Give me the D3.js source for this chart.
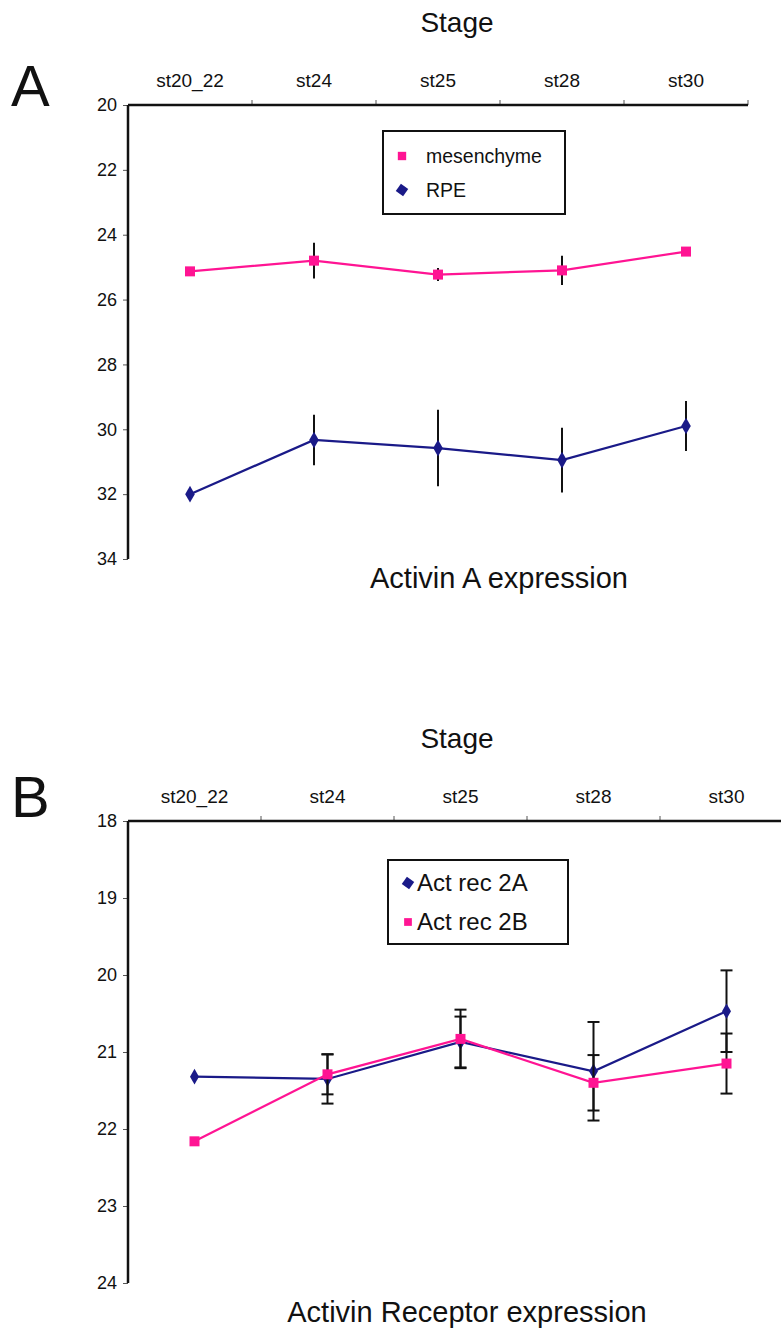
<!DOCTYPE html>
<html>
<head>
<meta charset="utf-8">
<script src="https://cdn.jsdelivr.net/npm/d3@7"></script>
<style>
body { margin: 0; background: #fff; }
text { font-family: "Liberation Sans", Arial, sans-serif; fill: #111; }
</style>
</head>
<body>
<div class="mydiv"></div>
<script>
var width = 781;
var height = 1332;

// stages on the top axis
var stages = ["st20_22", "st24", "st25", "st28", "st30"];

// panel A: Activin A (Ct values)
var yTicksA = [20, 22, 24, 26, 28, 30, 32, 34];
var mesenchyme = [25.13, 24.8, 25.23, 25.1, 24.52];
var mesenchymeErr = [0, 0.55, 0.2, 0.45, 0];
var rpe = [32.0, 30.33, 30.58, 30.95, 29.9];
var rpeErr = [0, 0.78, 1.18, 1.0, 0.77];

// panel B: activin receptors
var yTicksB = [18, 19, 20, 21, 22, 23, 24];
var rec2A = [21.32, 21.35, 20.87, 21.25, 20.47];
var rec2AErr = [0, 0.32, 0.33, 0.64, 0.53];
var rec2B = [22.16, 21.29, 20.83, 21.40, 21.15];
var rec2BErr = [0, 0.26, 0.38, 0.36, 0.39];

var pink = "#ff1493";
var navy = "#1a1a88";

var svg = d3.select(".mydiv")
	.append("svg")
	.attr("width", width)
	.attr("height", height);

function drawPanel(p) {
	var g = svg.append("g");
	var x = d3.scaleBand().domain(stages).range([p.left, p.right]);
	var y = d3.scaleLinear().domain(p.yDomain).range([p.top, p.bottom]);

	// top axis: labels centred in bands, ticks on band edges
	var xAxis = g.append("g")
		.attr("transform", "translate(0," + p.top + ")")
		.call(d3.axisTop(x).tickSize(0).tickPadding(18));
	xAxis.select(".domain").remove();
	xAxis.selectAll("text").style("font-size", "19px");

	g.selectAll(".xtick")
		.data(stages)
		.enter()
		.append("line")
		.attr("x1", function(d) { return x(d) + x.bandwidth(); })
		.attr("x2", function(d) { return x(d) + x.bandwidth(); })
		.attr("y1", p.top)
		.attr("y2", p.top - 5)
		.attr("stroke", "#555")
		.attr("stroke-width", 1);

	var yAxis = g.append("g")
		.attr("transform", "translate(" + p.left + ",0)")
		.call(d3.axisLeft(y).tickValues(p.yTicks).tickFormat(d3.format("d")).tickSize(5).tickPadding(6));
	yAxis.select(".domain").remove();
	yAxis.selectAll("line").attr("stroke", "#555");
	yAxis.selectAll("text").style("font-size", "18px");

	// thick frame lines
	g.append("line")
		.attr("x1", p.left).attr("x2", p.right)
		.attr("y1", p.top).attr("y2", p.top)
		.attr("stroke", "#111").attr("stroke-width", 2.5);
	g.append("line")
		.attr("x1", p.left).attr("x2", p.left)
		.attr("y1", p.top).attr("y2", p.bottom)
		.attr("stroke", "#111").attr("stroke-width", 2.5);

	var cx = function(i) { return x(stages[i]) + x.bandwidth() / 2; };

	p.series.forEach(function(s) {
		var pts = s.values.map(function(v, i) { return { i: i, v: v, e: s.err[i] }; });

		// error bars
		var eb = g.selectAll(null)
			.data(pts.filter(function(d) { return d.e > 0; }))
			.enter();
		eb.append("line")
			.attr("x1", function(d) { return cx(d.i); })
			.attr("x2", function(d) { return cx(d.i); })
			.attr("y1", function(d) { return y(d.v - d.e); })
			.attr("y2", function(d) { return y(d.v + d.e); })
			.attr("stroke", "#111")
			.attr("stroke-width", 2);
		if (p.caps) {
			[-1, 1].forEach(function(sgn) {
				eb.append("line")
					.attr("x1", function(d) { return cx(d.i) - 6; })
					.attr("x2", function(d) { return cx(d.i) + 6; })
					.attr("y1", function(d) { return y(d.v + sgn * d.e); })
					.attr("y2", function(d) { return y(d.v + sgn * d.e); })
					.attr("stroke", "#111")
					.attr("stroke-width", 2);
			});
		}

		var line = d3.line()
			.x(function(d) { return cx(d.i); })
			.y(function(d) { return y(d.v); });
		g.append("path")
			.datum(pts)
			.attr("d", line)
			.attr("fill", "none")
			.attr("stroke", s.color)
			.attr("stroke-width", 2.2);

		g.selectAll(null)
			.data(pts)
			.enter()
			.append("path")
			.attr("d", d3.symbol().type(s.shape).size(s.size))
			.attr("transform", function(d) {
				return "translate(" + cx(d.i) + "," + y(d.v) + ")";
			})
			.attr("fill", s.color);
	});

	// legend
	var lg = g.append("g");
	lg.append("rect")
		.attr("x", p.legend.x).attr("y", p.legend.y)
		.attr("width", p.legend.w).attr("height", p.legend.h)
		.attr("fill", "#fff").attr("stroke", "#111").attr("stroke-width", 2);
	p.legend.items.forEach(function(it, k) {
		var ly = p.legend.y + p.legend.first + k * p.legend.step;
		lg.append("path")
			.attr("d", d3.symbol().type(d3.symbolSquare).size(it.size))
			.attr("transform", "translate(" + (p.legend.x + p.legend.mx) + "," + ly + ")" + (it.diamond ? " rotate(35)" : ""))
			.attr("fill", it.color);
		lg.append("text")
			.attr("x", p.legend.x + p.legend.tx)
			.attr("y", ly)
			.attr("dy", "0.35em")
			.style("font-size", p.legend.font + "px")
			.text(it.name);
	});

	svg.append("text")
		.attr("x", 457).attr("y", p.top - 73)
		.attr("text-anchor", "middle")
		.style("font-size", "28px")
		.text("Stage");
	svg.append("text")
		.attr("x", 11).attr("y", p.top + p.letterDy)
		.style("font-size", "58px")
		.text(p.letter);
	svg.append("text")
		.attr("x", p.titleX).attr("y", p.titleY)
		.attr("text-anchor", "middle")
		.style("font-size", "29px")
		.text(p.title);
}

drawPanel({
	letter: "A", letterDy: 1,
	left: 128, right: 748, top: 105, bottom: 559,
	yDomain: [20, 34], yTicks: yTicksA, caps: false,
	series: [
		{ values: mesenchyme, err: mesenchymeErr, color: pink, shape: d3.symbolSquare, size: 100 },
		{ values: rpe, err: rpeErr, color: navy, shape: d3.symbolDiamond, size: 80 }
	],
	legend: { x: 383, y: 131, w: 182, h: 83, first: 25, step: 34, mx: 19, tx: 43, font: 19.5,
		items: [
			{ name: "mesenchyme", color: pink, size: 70 },
			{ name: "RPE", color: navy, size: 80, diamond: true }
		] },
	title: "Activin A expression", titleX: 499, titleY: 588
});

drawPanel({
	letter: "B", letterDy: -4,
	left: 128, right: 793, top: 821, bottom: 1283,
	yDomain: [18, 24], yTicks: yTicksB, caps: true,
	series: [
		{ values: rec2A, err: rec2AErr, color: navy, shape: d3.symbolDiamond, size: 70 },
		{ values: rec2B, err: rec2BErr, color: pink, shape: d3.symbolSquare, size: 100 }
	],
	legend: { x: 388, y: 860, w: 180, h: 84, first: 23, step: 39, mx: 20, tx: 29, font: 24,
		items: [
			{ name: "Act rec 2A", color: navy, size: 80, diamond: true },
			{ name: "Act rec 2B", color: pink, size: 60 }
		] },
	title: "Activin Receptor expression", titleX: 467, titleY: 1322
});
</script>
</body>
</html>
